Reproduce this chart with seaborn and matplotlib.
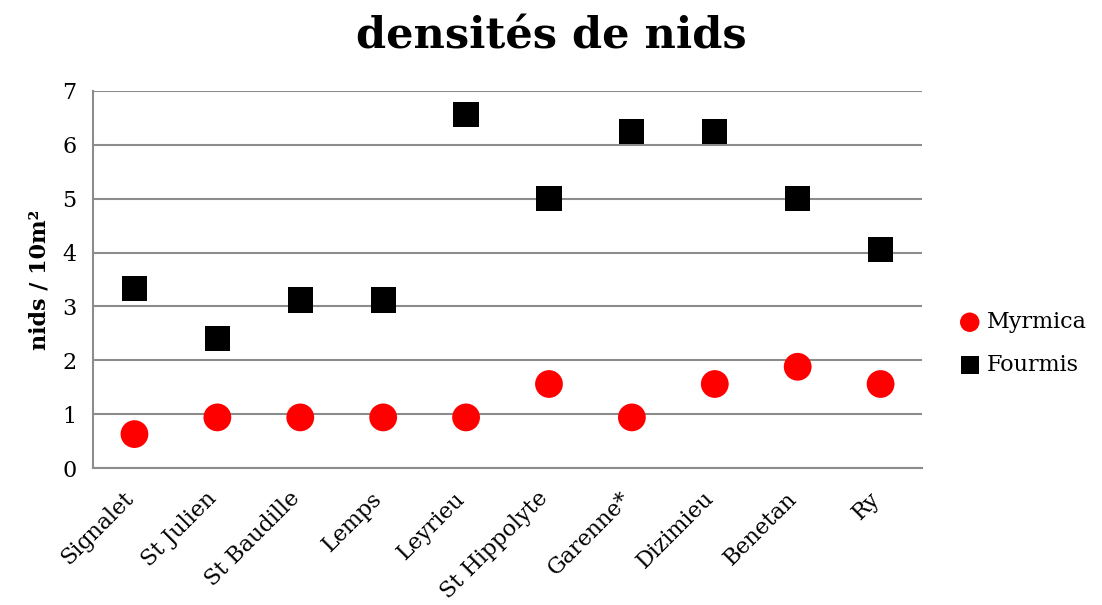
import matplotlib
matplotlib.use("Agg")
import matplotlib.pyplot as plt
import matplotlib.transforms as mtransforms
import seaborn as sns
import pandas as pd

sites = ["Signalet", "St Julien", "St Baudille", "Lemps", "Leyrieu",
         "St Hippolyte", "Garenne*", "Dizimieu", "Benetan", "Ry"]
myrmica = [0.63, 0.94, 0.94, 0.94, 0.94, 1.56, 0.94, 1.56, 1.88, 1.56]
fourmis = [3.34, 2.40, 3.12, 3.12, 6.56, 5.00, 6.25, 6.25, 5.00, 4.06]

df = pd.DataFrame({"site": sites, "Myrmica": myrmica, "Fourmis": fourmis})

sns.set_style("white")
plt.rcParams['font.family'] = ['DejaVu Serif', 'Liberation Serif']
plt.rcParams['text.color'] = 'black'
plt.rcParams['axes.labelcolor'] = 'black'
plt.rcParams['xtick.color'] = 'black'
plt.rcParams['ytick.color'] = 'black'

fig = plt.figure(figsize=(11.02, 6.05), dpi=100)
ax = fig.add_axes([0.0844, 0.2264, 0.7523, 0.6232])

sns.scatterplot(data=df, x="site", y="Fourmis", marker="s", s=330, color="black",
                edgecolor="none", linewidth=0, ax=ax, label="Fourmis", zorder=3)
sns.scatterplot(data=df, x="site", y="Myrmica", marker="o", s=400, color="#ff0000",
                edgecolor="none", linewidth=0, ax=ax, label="Myrmica", zorder=3)

ax.set_xlim(-0.5, len(sites) - 0.5)
ax.set_ylim(0, 7)
ax.set_yticks(range(0, 8))
ax.yaxis.grid(True, color="#8c8c8c", linewidth=1.5)
ax.set_axisbelow(True)
for side in ["top", "right"]:
    ax.spines[side].set_visible(False)
for side in ["left", "bottom"]:
    ax.spines[side].set_color("#8c8c8c")
    ax.spines[side].set_linewidth(1.5)
ax.tick_params(axis="y", length=0, labelsize=16, pad=12)
ax.tick_params(axis="x", length=0, labelsize=16, pad=14)
ax.set_xticks(range(len(sites)))
ax.set_xticklabels(sites, rotation=45, ha="right", rotation_mode="anchor")
shift = mtransforms.ScaledTranslation(-12 / 100, 0, fig.dpi_scale_trans)
for lab in ax.get_xticklabels():
    lab.set_transform(lab.get_transform() + shift)
ax.set_xlabel("")
ax.set_ylabel("nids / 10m²", fontsize=16, fontweight="bold", labelpad=8)

fig.suptitle("densités de nids", x=0.5, y=0.975, fontsize=31, fontweight="bold")

handles, labels = ax.get_legend_handles_labels()
order = [labels.index("Myrmica"), labels.index("Fourmis")]
leg = ax.legend([handles[i] for i in order], [labels[i] for i in order],
                loc="center left", bbox_to_anchor=(1.02, 0.33), frameon=False,
                fontsize=16, handletextpad=0.25, labelspacing=0.95,
                markerscale=0.7, handlelength=1.0)

fig.savefig("out.png", dpi=100)
